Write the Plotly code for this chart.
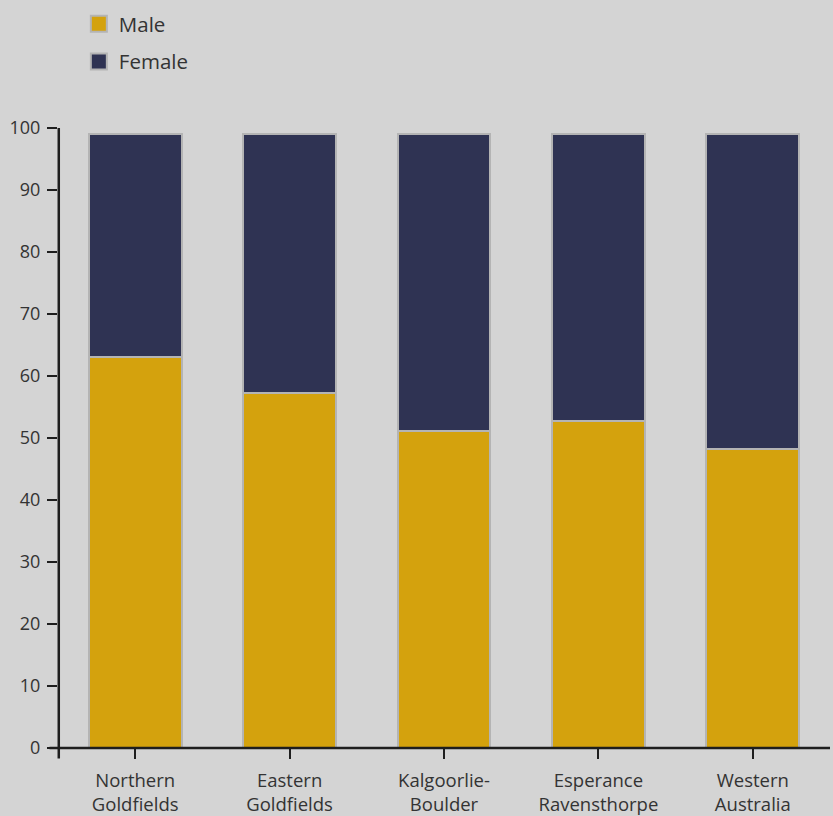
import plotly.graph_objects as go

categories = ["Northern<br>Goldfields", "Eastern<br>Goldfields", "Kalgoorlie-<br>Boulder",
              "Esperance<br>Ravensthorpe", "Western<br>Australia"]
male = [63.0, 57.2, 51.2, 52.8, 48.3]
female = [36.0, 41.8, 47.8, 46.3, 50.8]
y_ticks = [0, 10, 20, 30, 40, 50, 60, 70, 80, 90, 100]

MALE_C = "#d4a20d"
FEMALE_C = "#2f3353"
EDGE = "#b4b4b4"
BG = "#d4d4d4"
AX = "#1e1e1e"
FONT = "Open Sans"

fig = go.Figure()
fig.add_trace(go.Bar(x=categories, y=male, name="Male", marker=dict(color=MALE_C, line=dict(color=EDGE, width=2)),
                     showlegend=False, width=0.6))
fig.add_trace(go.Bar(x=categories, y=female, name="Female", marker=dict(color=FEMALE_C, line=dict(color=EDGE, width=2)),
                     showlegend=False, width=0.6))
# legend entries
fig.add_trace(go.Scatter(x=[None], y=[None], mode="markers", name="Male", legendgroup="m",
                         marker=dict(symbol="square", size=16, color=MALE_C, line=dict(color=EDGE, width=2))))
fig.add_trace(go.Scatter(x=[None], y=[None], mode="markers", name="Female", legendgroup="f",
                         marker=dict(symbol="square", size=16, color=FEMALE_C, line=dict(color=EDGE, width=2))))

fig.update_layout(
    barmode="stack",
    width=833, height=816,
    paper_bgcolor=BG, plot_bgcolor=BG,
    margin=dict(l=58, r=3, t=128, b=68, autoexpand=False),
    font=dict(family=FONT, color="#333333", size=17),
    legend=dict(x=0.027, y=1.2, xanchor="left", yanchor="top", font=dict(size=20.5, color="#333333"),
                traceorder="grouped", tracegroupgap=8, bgcolor="rgba(0,0,0,0)", itemwidth=30),
    xaxis=dict(range=[-0.5, 4.5], showline=False, showgrid=False, zeroline=False, automargin=False,
               ticks="outside", ticklen=10, tickwidth=2, tickcolor=AX, ticklabelstandoff=6,
               tickfont=dict(size=18.5, color="#333333"), fixedrange=True),
    yaxis=dict(range=[0, 100], tickvals=y_ticks, showline=False, showgrid=False, zeroline=False, automargin=False,
               ticks="outside", ticklen=10, tickwidth=2, tickcolor=AX, ticklabelstandoff=3,
               tickfont=dict(size=18, color="#333333"), fixedrange=True),
    showlegend=True,
)
# axis lines
fig.add_shape(type="line", xref="paper", yref="paper", x0=-0.011, x1=1.0, y0=0, y1=0,
              line=dict(color=AX, width=2.5))
fig.add_shape(type="line", xref="paper", yref="paper", x0=0.001, x1=0.001, y0=-0.017, y1=1.0,
              line=dict(color=AX, width=2.5))

fig.write_html("out.html")
